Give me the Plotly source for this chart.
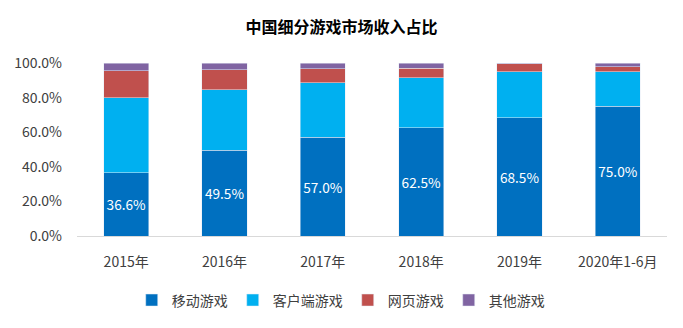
import plotly.graph_objects as go

categories = ["2015年", "2016年", "2017年", "2018年", "2019年", "2020年1-6月"]
mobile = [36.6, 49.5, 57.0, 62.5, 68.5, 75.0]
client = [43.4, 35.1, 31.7, 28.9, 26.4, 19.9]
web = [15.6, 11.4, 8.1, 5.6, 4.6, 3.0]
other = [4.4, 4.0, 3.2, 3.0, 0.5, 2.1]
tick_vals = [0, 20, 40, 60, 80, 100]
tick_text = ["0.0%", "20.0%", "40.0%", "60.0%", "80.0%", "100.0%"]

font = "Noto Sans CJK SC, Microsoft YaHei, sans-serif"

fig = go.Figure()
fig.add_bar(x=categories, y=mobile, name="移动游戏", marker_color="#0070C0",
            text=[f"{v:.1f}%" for v in mobile], textposition="inside",
            insidetextanchor="middle", textangle=0,
            textfont=dict(color="white", size=15, family=font))
fig.add_bar(x=categories, y=client, name="客户端游戏", marker_color="#00B0F0")
fig.add_bar(x=categories, y=web, name="网页游戏", marker_color="#C0504D")
fig.add_bar(x=categories, y=other, name="其他游戏", marker_color="#8064A2")

fig.update_layout(
    barmode="stack",
    bargap=0.54,
    width=683, height=328,
    margin=dict(l=77, r=16, t=63, b=90),
    paper_bgcolor="white", plot_bgcolor="white",
    font=dict(family=font, size=14, color="#404040"),
    title=dict(text="<b>中国细分游戏市场收入占比</b>", x=0.5, xanchor="center",
               y=0.915, yanchor="middle", font=dict(size=16, color="#000000", family=font)),
    legend=dict(orientation="h", x=0.447, xanchor="center", y=-0.28, yanchor="top",
                font=dict(size=14, color="#404040"), itemwidth=30, traceorder="normal"),
    uniformtext=dict(mode=False),
)
fig.update_yaxes(range=[0, 100], tickvals=tick_vals, ticktext=tick_text,
                 showgrid=False, zeroline=False, showline=False, ticks="",
                 ticklabelstandoff=14,
                 tickfont=dict(size=14, color="#404040"))
fig.update_xaxes(showline=True, linecolor="#D9D9D9", linewidth=1, ticks="",
                 ticklabelstandoff=13,
                 tickfont=dict(size=14, color="#404040"))

fig.write_html("out.html")
